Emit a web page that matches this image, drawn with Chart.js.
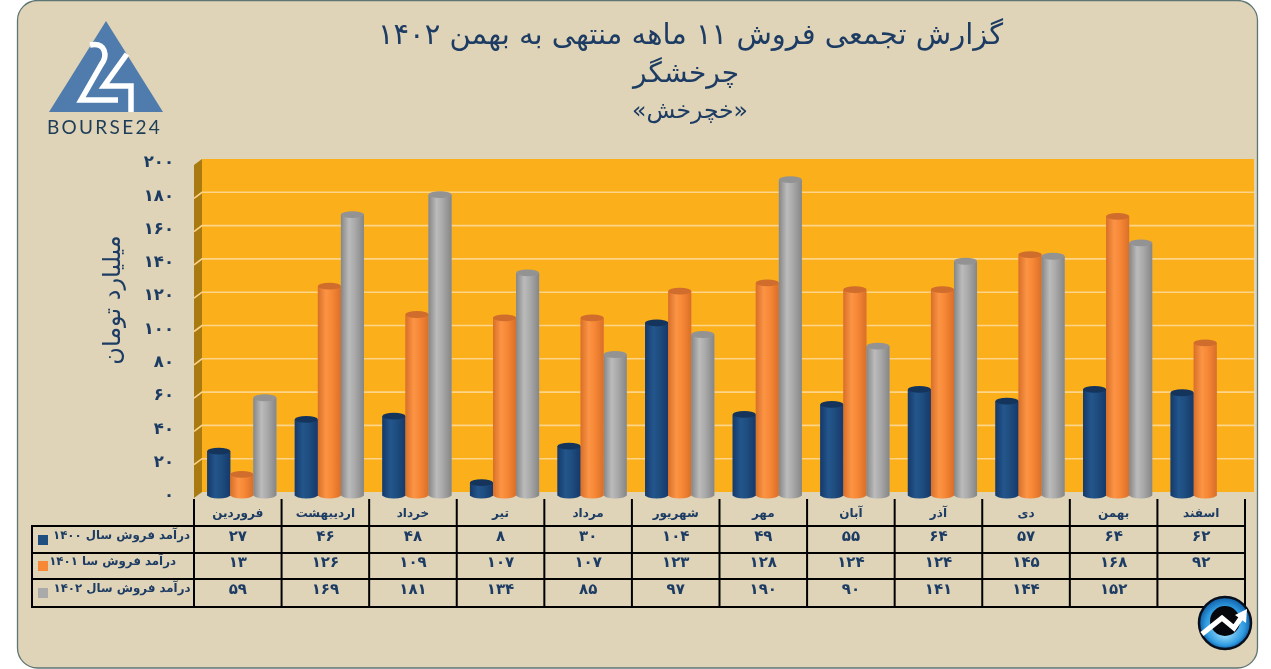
<!DOCTYPE html>
<html lang="fa">
<head>
<meta charset="utf-8">
<title>گزارش تجمعی فروش</title>
<script src="https://cdn.jsdelivr.net/npm/chart.js@4"></script>
<style>
html,body{margin:0;padding:0;background:#fff;}
canvas{display:block;}
</style>
</head>
<body>
<canvas id="c" width="1271" height="669"></canvas>
<script>
const months = ['فروردین','اردیبهشت','خرداد','تیر','مرداد','شهریور','مهر','آبان','آذر','دی','بهمن','اسفند'];
const sales1400 = [27,46,48,8,30,104,49,55,64,57,64,62];
const sales1401 = [13,126,109,107,107,123,128,124,124,145,168,92];
const sales1402 = [59,169,181,134,85,97,190,90,141,144,152,null];
const seriesNames = ['درآمد فروش سال ۱۴۰۰','درآمد فروش سا ۱۴۰۱','درآمد فروش سال ۱۴۰۲'];
const titleLines = ['گزارش تجمعی فروش ۱۱ ماهه منتهی به بهمن ۱۴۰۲','چرخشگر','«خچرخش»'];
const yAxisTitle = 'میلیارد تومان';
const brand = 'BOURSE24';

const NAVY_TEXT = '#1d3c63';
const FA = "'DejaVu Sans'";
const toFa = v => String(v).replace(/\d/g, d => '۰۱۲۳۴۵۶۷۸۹'[d]);

const looks = [
  {base:'#1f4e80', edge:'#15396a', light:'#23568c', cap:'#14345c'},
  {base:'#f78836', edge:'#d96f28', light:'#fb9445', cap:'#d06c2c'},
  {base:'#aaaaaa', edge:'#868686', light:'#bbbbbb', cap:'#939393'}
];
const BAR_SHIFT = 4, DX = 8, DY = 4;

const wallPlugin = {
  id:'wall',
  beforeDraw(chart){
    const c = chart.ctx, a = chart.chartArea, y = chart.scales.y;
    c.save();
    c.beginPath(); c.roundRect(17.5,0.5,1240,667.5,20);
    c.fillStyle='#dfd3b8'; c.fill();
    c.strokeStyle='#5d7573'; c.lineWidth=1.3; c.stroke();
    const wl=a.left+DX, wr=1254, wt=y.getPixelForValue(200)-DY, wb=y.getPixelForValue(0)-DY;
    c.fillStyle='#fbb01b'; c.fillRect(wl,wt,wr-wl,wb-wt);
    c.fillStyle='#a97a10';
    c.beginPath(); c.moveTo(a.left,wt+DY+2); c.lineTo(wl,wt); c.lineTo(wl,wb); c.lineTo(a.left,wb+DY+2); c.closePath(); c.fill();
    c.lineWidth=1.6;
    y.ticks.forEach(t=>{
      const p=y.getPixelForValue(t.value);
      if(t.value===0||t.value===200) return;
      c.strokeStyle='#fcd48a';
      c.beginPath(); c.moveTo(a.left,p+2); c.lineTo(wl,p-DY); c.lineTo(wr,p-DY); c.stroke();
    });
    c.restore();
  },
  beforeDatasetsDraw(chart){ chart.ctx.save(); chart.ctx.translate(BAR_SHIFT,0); },
  afterDatasetsDraw(chart){
    const c = chart.ctx;
    chart.data.datasets.forEach((ds,i)=>{
      const look=looks[i];
      chart.getDatasetMeta(i).data.forEach((bar,j)=>{
        if(ds.data[j]==null) return;
        const hw=bar.width/2, l=bar.x-hw, r=bar.x+hw, top=bar.y, bot=bar.base-1, ry=3.4;
        const g=c.createLinearGradient(l,0,r,0);
        g.addColorStop(0,look.edge); g.addColorStop(0.35,look.light); g.addColorStop(0.6,look.base); g.addColorStop(1,look.edge);
        c.fillStyle=g;
        c.beginPath();
        c.moveTo(l,top);
        c.lineTo(l,bot);
        c.ellipse(bar.x,bot,hw,ry,0,Math.PI,0,true);
        c.lineTo(r,top);
        c.closePath();
        c.fill();
        c.fillStyle=look.cap;
        c.beginPath(); c.ellipse(bar.x,top,hw,ry,0,0,Math.PI*2); c.fill();
      });
    });
    c.restore();
  },
  afterDraw(chart){
    const c=chart.ctx, x=chart.scales.x;
    c.save();
    drawTitles(c); drawTable(c,x); drawLogo(c); drawBadge(c);
    c.restore();
  }
};

function drawTitles(c){
  c.fillStyle=NAVY_TEXT; c.textAlign='center'; c.textBaseline='middle'; c.direction='rtl';
  c.font=`29px ${FA}`; c.fillText(titleLines[0],690.5,36);
  c.font=`28px ${FA}`; c.fillText(titleLines[1],686,75);
  c.font=`23.5px ${FA}`; c.fillText(titleLines[2],690,112);
  c.save();
  c.translate(114,300); c.rotate(-Math.PI/2);
  c.font=`24px ${FA}`; c.fillText(yAxisTitle,0,0);
  c.restore();
}

function drawTable(c,x){
  const rows=[526,553,579,607], left=32, topV=499;
  const edges=[]; const n=months.length;
  for(let i=0;i<n;i++) edges.push(x.getPixelForValue(i)-x.width/n/2);
  edges.push(x.right);
  c.strokeStyle='#000'; c.lineWidth=2;
  c.beginPath();
  rows.forEach(y=>{c.moveTo(left,y);c.lineTo(x.right,y);});
  c.moveTo(left,rows[0]-1);c.lineTo(left,rows[3]+1);
  edges.forEach(e=>{c.moveTo(e,topV);c.lineTo(e,rows[3]+1);});
  c.stroke();
  const tables=[sales1400,sales1401,sales1402];
  const textY=[537,563,590], labelRight=[190,176,190.5], swatchY=[535,561,588];
  c.textBaseline='middle'; c.fillStyle=NAVY_TEXT; c.direction='rtl';
  tables.forEach((vals,r)=>{
    c.textAlign='center'; c.font=`bold 15px ${FA}`;
    c.fillStyle=NAVY_TEXT;
    vals.forEach((v,i)=>{ if(v!=null) c.fillText(toFa(v),(edges[i]+edges[i+1])/2,textY[r]); });
    c.textAlign='right'; c.font=`bold 11.8px ${FA}`;
    c.fillText(seriesNames[r],labelRight[r],textY[r]-1);
    c.fillStyle=looks[r].base; c.fillRect(38,swatchY[r],10,10);
  });
}

function drawLogo(c){
  c.fillStyle='#4f7cac';
  c.beginPath(); c.moveTo(106,21); c.lineTo(163,112); c.lineTo(49,112); c.closePath(); c.fill();
  c.strokeStyle='#fff'; c.lineWidth=5.5; c.lineJoin='miter';
  c.beginPath();
  c.moveTo(90,45); c.bezierCurveTo(106,42,108,56,101,65); c.lineTo(81,100); c.lineTo(118,100);
  c.stroke();
  c.beginPath();
  c.moveTo(127,54); c.lineTo(104,86); c.lineTo(131,86); c.lineTo(131,112);
  c.stroke();
  c.fillStyle='#1d3c58'; c.textAlign='left'; c.textBaseline='middle'; c.direction='ltr';
  c.font="400 19px Lato"; c.letterSpacing='2.3px';
  c.fillText(brand,47,128);
  c.letterSpacing='0px';
}

function drawBadge(c){
  const cx=1225, cy=623, r=26;
  const g=c.createRadialGradient(cx,cy+10,4,cx,cy,r);
  g.addColorStop(0,'#8ad2f7'); g.addColorStop(0.7,'#2f9be0'); g.addColorStop(1,'#0f5ea8');
  c.beginPath(); c.arc(cx,cy,r,0,Math.PI*2); c.fillStyle=g; c.fill();
  c.lineWidth=2.5; c.strokeStyle='#0a0f1c'; c.stroke();
  c.beginPath(); c.arc(cx,cy-2,15,0,Math.PI*2); c.fillStyle='#05070c'; c.fill();
  c.strokeStyle='#fff'; c.lineWidth=5; c.lineJoin='miter';
  c.beginPath(); c.moveTo(1202,634); c.lineTo(1222,618); c.lineTo(1234,628); c.lineTo(1243,615); c.stroke();
  c.fillStyle='#fff'; c.beginPath(); c.moveTo(1247,609); c.lineTo(1246,623); c.lineTo(1235,615); c.closePath(); c.fill();
}

new Chart(document.getElementById('c'),{
  type:'bar',
  data:{
    labels:months,
    datasets:[
      {label:seriesNames[0],data:sales1400,backgroundColor:looks[0].base},
      {label:seriesNames[1],data:sales1401,backgroundColor:looks[1].base},
      {label:seriesNames[2],data:sales1402,backgroundColor:looks[2].base}
    ]
  },
  plugins:[wallPlugin],
  options:{
    responsive:false,
    animation:false,
    layout:{padding:{left:94,right:26,top:163,bottom:143}},
    datasets:{bar:{barPercentage:1,categoryPercentage:0.79}},
    plugins:{legend:{display:false},title:{display:false},tooltip:{enabled:false}},
    scales:{
      x:{
        grid:{display:false},border:{display:false},
        afterFit(s){s.height=30;},
        ticks:{color:NAVY_TEXT,font:{family:'DejaVu Sans',size:12,weight:'bold'},padding:3,maxRotation:0,autoSkip:false}
      },
      y:{
        min:0,max:200,
        grid:{display:false,drawTicks:false},border:{display:false},
        afterFit(s){s.width=100;},
        ticks:{stepSize:20,padding:20,color:NAVY_TEXT,font:{family:'DejaVu Sans',size:16.5,weight:'bold'},callback:v=>toFa(v)}
      }
    }
  }
});
</script>
</body>
</html>
